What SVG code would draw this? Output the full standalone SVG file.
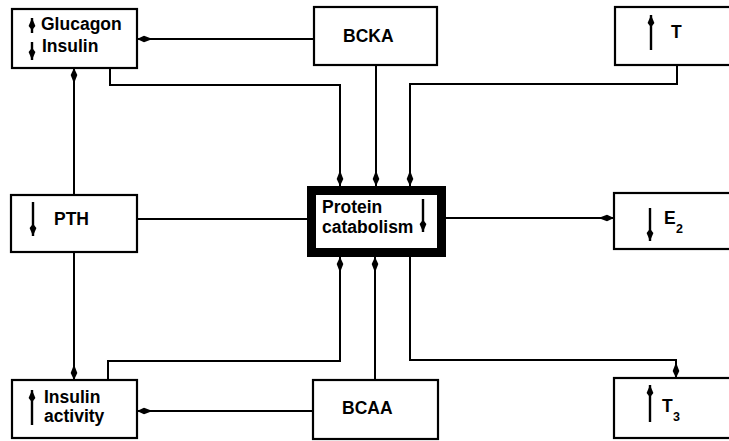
<svg xmlns="http://www.w3.org/2000/svg" width="729" height="441" viewBox="0 0 729 441">
<style>
.box{fill:#fff;stroke:#000;stroke-width:2.2}
.thick{fill:#fff;stroke:#000;stroke-width:9}
.t{font-family:"Liberation Sans",Arial,sans-serif;font-weight:bold;font-size:17.5px;fill:#000}
.sub{font-family:"Liberation Sans",Arial,sans-serif;font-weight:bold;font-size:12.5px;fill:#000}
.c{fill:none;stroke:#000;stroke-width:2}
.ia{fill:none;stroke:#000;stroke-width:2.4}
</style>
<defs>
<marker id="ah" markerUnits="userSpaceOnUse" markerWidth="16" markerHeight="10" viewBox="-14 -5 16 10" refX="0" refY="0" orient="auto">
<path d="M0,0 L-7,-3.3 L-13,-1 L-13,1 L-7,3.3 Z" fill="#000"/>
</marker>
<marker id="sh" markerUnits="userSpaceOnUse" markerWidth="14" markerHeight="10" viewBox="-12 -5 14 10" refX="0" refY="0" orient="auto">
<path d="M0,0 L-8,-3.4 L-11,-1 L-11,1 L-8,3.4 Z" fill="#000"/>
</marker>
</defs>
<g id="connectors">
<path class="c" d="M314,39 H137" marker-end="url(#ah)"/>
<path class="c" d="M110,68 V85 H340 V186" marker-end="url(#ah)"/>
<path class="c" d="M376,65 V186" marker-end="url(#ah)"/>
<path class="c" d="M677,65 V84 H410 V186" marker-end="url(#ah)"/>
<path class="c" d="M74,195 V68" marker-end="url(#ah)"/>
<path class="c" d="M74,252 V380" marker-end="url(#ah)"/>
<path class="c" d="M137,219 H307"/>
<path class="c" d="M446,218 H614" marker-end="url(#ah)"/>
<path class="c" d="M108,380 V361 H340 V257" marker-end="url(#ah)"/>
<path class="c" d="M375,380 V257" marker-end="url(#ah)"/>
<path class="c" d="M313,411 H137" marker-end="url(#ah)"/>
<path class="c" d="M410,257 V360 H676 V378" marker-end="url(#ah)"/>
</g>
<g id="glucagon">
<rect class="box" x="12" y="9" width="125" height="59"/>
<path class="ia" d="M32,33 V18" marker-end="url(#sh)"/>
<path class="ia" d="M32,42 V60" marker-end="url(#sh)"/>
<text class="t" x="41" y="30" font-size="18.5">Glucagon</text>
<text class="t" x="42" y="52" font-size="18">Insulin</text>
</g>
<g id="bcka">
<rect class="box" x="314" y="7" width="123" height="58"/>
<text class="t" x="343" y="42" font-size="18">BCKA</text>
</g>
<g id="t">
<rect class="box" x="615" y="7" width="120" height="58"/>
<path class="ia" d="M651,50 V15" marker-end="url(#sh)"/>
<text class="t" x="671" y="38">T</text>
</g>
<g id="pth">
<rect class="box" x="11" y="195" width="126" height="57"/>
<path class="ia" d="M33,202 V236" marker-end="url(#sh)"/>
<text class="t" x="54" y="225">PTH</text>
</g>
<g id="protein">
<rect class="thick" x="311.5" y="190.5" width="130" height="62"/>
<text class="t" x="322" y="213">Protein</text>
<text class="t" x="322" y="233">catabolism</text>
<path class="ia" d="M423,199 V232" marker-end="url(#sh)"/>
</g>
<g id="e2">
<rect class="box" x="614" y="193" width="121" height="56"/>
<path class="ia" d="M650,208 V241" marker-end="url(#sh)"/>
<text class="t" x="664" y="224" font-size="16.5">E</text>
<text class="sub" x="676" y="233">2</text>
</g>
<g id="insulin-activity">
<rect class="box" x="12" y="380" width="125" height="58"/>
<path class="ia" d="M32,425 V390" marker-end="url(#sh)"/>
<text class="t" x="44" y="403">Insulin</text>
<text class="t" x="44" y="422">activity</text>
</g>
<g id="bcaa">
<rect class="box" x="313" y="380" width="125" height="59"/>
<text class="t" x="342" y="414">BCAA</text>
</g>
<g id="t3">
<rect class="box" x="614" y="378" width="121" height="60"/>
<path class="ia" d="M650,422 V385" marker-end="url(#sh)"/>
<text class="t" x="662" y="412" font-size="16.5">T</text>
<text class="sub" x="673" y="421">3</text>
</g>
</svg>
